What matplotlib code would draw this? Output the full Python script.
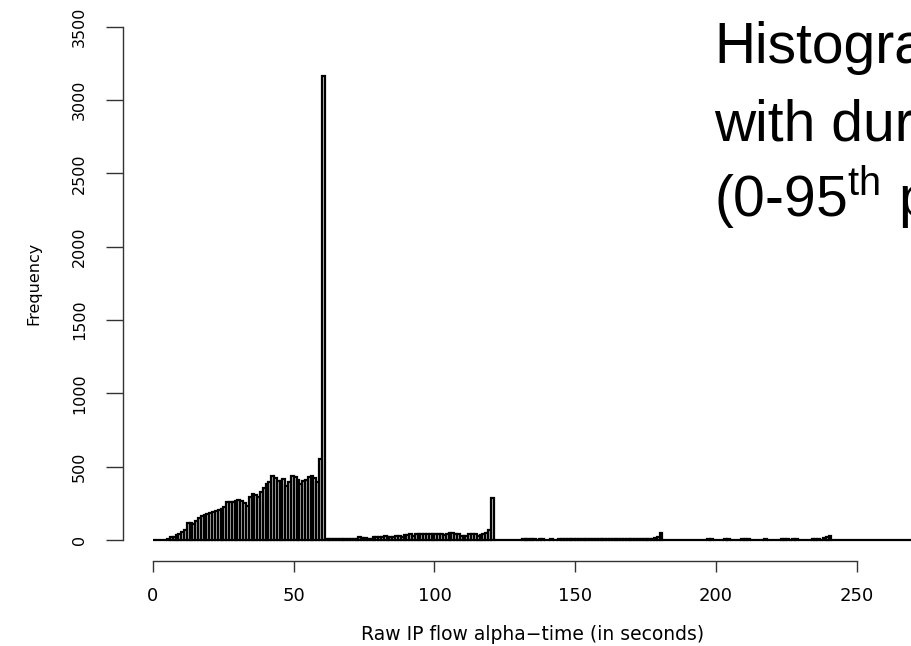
import matplotlib
matplotlib.use("Agg")
import matplotlib.pyplot as plt
import numpy as np

# one-second bins, left edges 0..269
bin_left = np.arange(0, 270)
counts = [
    0, 0, 0, 0, 0, 9, 18, 23, 32, 41,
    57, 68, 114, 118, 109, 132, 148, 166, 173, 177,
    186, 193, 200, 204, 209, 227, 261, 261, 261, 268,
    272, 268, 250, 232, 295, 313, 307, 291, 329, 352,
    382, 393, 436, 420, 404, 400, 416, 368, 398, 436,
    427, 409, 382, 404, 409, 432, 436, 420, 398, 550,
    3165, 5, 4, 5, 4, 5, 4, 5, 4, 5,
    4, 5, 8, 20, 15, 14, 8, 10, 20, 20,
    18, 22, 30, 18, 22, 20, 30, 26, 22, 34,
    36, 40, 28, 40, 41, 40, 41, 40, 41, 40,
    41, 40, 38, 32, 40, 50, 50, 42, 40, 28,
    27, 30, 38, 40, 40, 30, 32, 40, 50, 70,
    284, 0, 0, 0, 0, 0, 0, 0, 0, 0,
    0, 8, 8, 5, 4, 4, 0, 6, 5, 0,
    0, 5, 0, 0, 5, 5, 4, 4, 4, 4,
    4, 4, 4, 4, 4, 4, 4, 4, 4, 4,
    4, 4, 4, 4, 4, 4, 4, 4, 4, 6,
    6, 6, 6, 6, 6, 6, 6, 10, 15, 18,
    45, 0, 0, 0, 0, 0, 0, 0, 0, 0,
    0, 0, 0, 0, 0, 0, 0, 8, 8, 0,
    0, 0, 0, 6, 6, 0, 0, 0, 0, 8,
    8, 8, 0, 0, 0, 0, 0, 6, 0, 0,
    0, 0, 0, 8, 8, 8, 0, 8, 8, 0,
    0, 0, 0, 0, 8, 8, 8, 0, 14, 18,
    30, 0, 0, 0, 0, 0, 0, 0, 0, 0,
    0, 0, 0, 0, 0, 0, 0, 0, 0, 0,
    0, 0, 0, 0, 0, 0, 0, 0, 0, 0,
]
x_ticks = [0, 50, 100, 150, 200, 250]
y_ticks = [0, 500, 1000, 1500, 2000, 2500, 3000, 3500]

# slide text, cut off by the right edge just as in the original slide
title_lines = ["Histogra", "with dur", r"(0-95$^{\mathregular{th}}$ p"]

fig = plt.figure(figsize=(9.11, 6.46), dpi=100)
ax = fig.add_axes([0.1347, 0.1316, 0.8653, 0.8591])

ax.bar(bin_left, counts, width=1, align="edge", facecolor="lightgray",
       edgecolor="black", linewidth=1.6)

ax.set_xlim(-10.76, 269.3)
ax.set_ylim(-143, 3641)

# R style axes: detached lines that only span the ticks
for side in ["top", "right"]:
    ax.spines[side].set_visible(False)
ax.spines["left"].set_bounds(0, 3500)
ax.spines["bottom"].set_bounds(0, 250)
for side in ["left", "bottom"]:
    ax.spines[side].set_color("#333333")
    ax.spines[side].set_linewidth(1.0)

ax.set_xticks(x_ticks)
ax.set_yticks(y_ticks)
ax.tick_params(axis="x", direction="out", length=7.7, width=1.0, pad=11,
               color="#333333", labelsize=13, labelcolor="black")
ax.tick_params(axis="y", direction="out", length=12.2, width=1.0, pad=13.5,
               color="#333333", labelsize=11.5, labelcolor="black",
               labelrotation=90)
for lab in ax.get_yticklabels():
    lab.set_va("center")

ax.set_xlabel("Raw IP flow alpha\u2212time (in seconds)", fontsize=13.5,
              color="black")
ax.xaxis.set_label_coords(0.5205, -0.1153)
ax.set_ylabel("Frequency", fontsize=11.5, color="black")
ax.yaxis.set_label_coords(-0.1036, 0.5)

for txt, base in zip(title_lines, [63, 140, 217]):
    fig.text(714 / 911, 1 - base / 646, txt, family="Liberation Sans",
             fontsize=41, ha="left", va="baseline", color="black")

fig.savefig("out.png", dpi=100)
